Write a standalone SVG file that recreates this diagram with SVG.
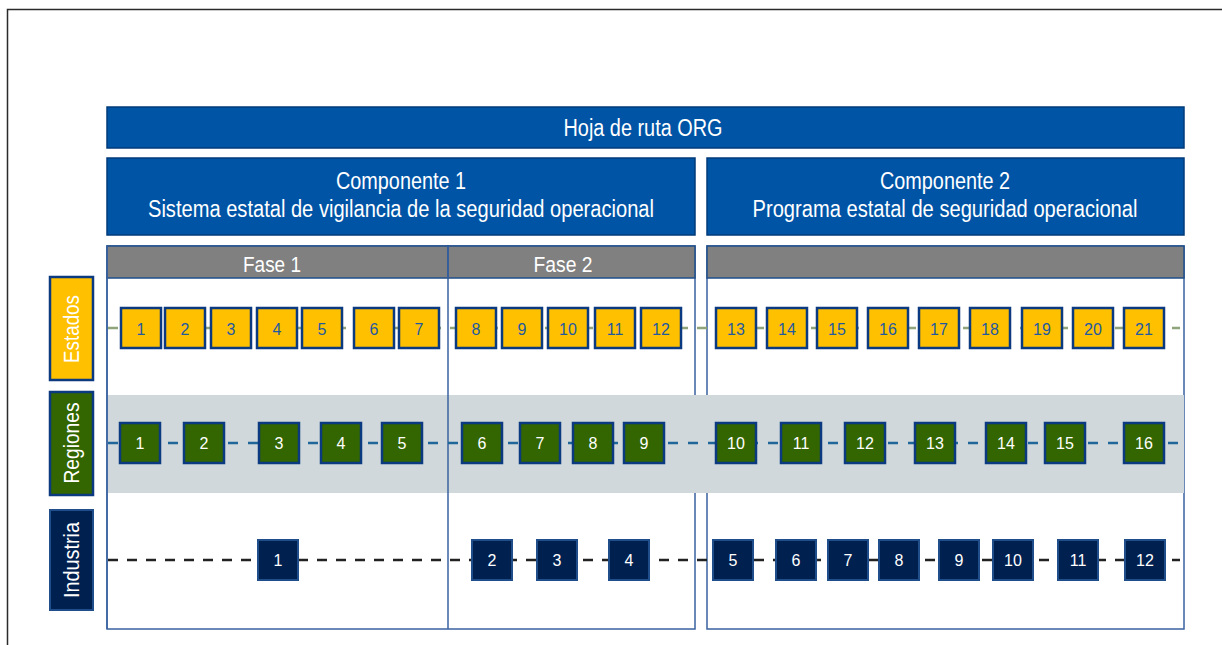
<svg xmlns="http://www.w3.org/2000/svg" width="1222" height="645" viewBox="0 0 1222 645">
<style>
text{font-family:"Liberation Sans",Arial,sans-serif;}
.hd{fill:#0054A6;stroke:#003A7A;stroke-width:1.5}
.ht{fill:#fff;font-size:23px;text-anchor:middle}
.ft{fill:#fff;font-size:22px;text-anchor:middle}
.cont{fill:none;stroke:#3A62A0;stroke-width:1.5}
.ph{fill:#808080;stroke:#1F4E8A;stroke-width:1.5}
.es rect{fill:#FFC000;stroke:#0B3A80;stroke-width:2.5}
.es text{fill:#1F5AA0;font-size:16px;text-anchor:middle}
.rg rect{fill:#336600;stroke:#0B3A80;stroke-width:2.5}
.rg text{fill:#fff;font-size:16px;text-anchor:middle}
.in rect{fill:#002050;stroke:#1F4E8A;stroke-width:2}
.in text{fill:#fff;font-size:16px;text-anchor:middle}
.lbl text{fill:#fff;font-size:22px;text-anchor:middle}
</style>
<rect width="1222" height="645" fill="#fff"/>
<path d="M7.5 645V9.5H1222" fill="none" stroke="#2b2b2b" stroke-width="1.5"/>

<g id="hoja"><rect class="hd" x="107" y="107" width="1077" height="41"/><text class="ht" x="643" y="136" textLength="159" lengthAdjust="spacingAndGlyphs">Hoja de ruta ORG</text></g>
<g id="comp1"><rect class="hd" x="107" y="158" width="588" height="77"/><text class="ht" x="401" y="189" textLength="130" lengthAdjust="spacingAndGlyphs">Componente 1</text><text class="ht" x="401" y="217" textLength="506" lengthAdjust="spacingAndGlyphs">Sistema estatal de vigilancia de la seguridad operacional</text></g>
<g id="comp2"><rect class="hd" x="707" y="158" width="477" height="77"/><text class="ht" x="945" y="189" textLength="130" lengthAdjust="spacingAndGlyphs">Componente 2</text><text class="ht" x="945" y="217" textLength="385" lengthAdjust="spacingAndGlyphs">Programa estatal de seguridad operacional</text></g>

<g id="containers">
<rect class="cont" x="107" y="246" width="588" height="383"/>
<rect class="cont" x="707" y="246" width="477" height="383"/>
</g>
<rect id="band" x="108" y="395" width="1076" height="98" fill="#D0D8DB"/>
<g id="phases">
<rect class="ph" x="107" y="246" width="341" height="32"/>
<rect class="ph" x="448" y="246" width="247" height="32"/>
<rect class="ph" x="707" y="246" width="477" height="32"/>
<line x1="448" y1="246" x2="448" y2="629" stroke="#3A62A0" stroke-width="1.5"/>
<line x1="107" y1="246" x2="107" y2="629" stroke="#3A62A0" stroke-width="1.5"/>
<text class="ft" x="272" y="272" textLength="58" lengthAdjust="spacingAndGlyphs">Fase 1</text>
<text class="ft" x="563" y="272" textLength="59" lengthAdjust="spacingAndGlyphs">Fase 2</text>
</g>

<g id="labels" class="lbl">
<g id="lbl-estados"><rect x="50" y="277" width="43" height="103" fill="#FFC000" stroke="#0B3A80" stroke-width="2.5"/><text transform="translate(79 329) rotate(-90)" textLength="68" lengthAdjust="spacingAndGlyphs">Estados</text></g>
<g id="lbl-regiones"><rect x="50" y="392" width="43" height="103" fill="#336600" stroke="#0B3A80" stroke-width="2.5"/><text transform="translate(79 443) rotate(-90)" textLength="81" lengthAdjust="spacingAndGlyphs">Regiones</text></g>
<g id="lbl-industria"><rect x="50" y="510" width="43" height="100" fill="#002050" stroke="#1F4E8A" stroke-width="2"/><text transform="translate(79 560) rotate(-90)" textLength="76" lengthAdjust="spacingAndGlyphs">Industria</text></g>
</g>

<g id="connectors" fill="none" stroke-width="2.5">
<line x1="108" y1="328" x2="1180" y2="328" stroke="#8FA47A" stroke-dasharray="10 9"/>
<line x1="108" y1="443" x2="1180" y2="443" stroke="#1F6699" stroke-dasharray="10 10"/>
<line x1="108" y1="560" x2="1180" y2="560" stroke="#222" stroke-dasharray="10 9"/>
</g>

<g id="estados" class="es">
<g id="e1"><rect x="121" y="308" width="40" height="40"/><text x="141" y="335">1</text></g>
<g id="e2"><rect x="165" y="308" width="40" height="40"/><text x="185" y="335">2</text></g>
<g id="e3"><rect x="211" y="308" width="40" height="40"/><text x="231" y="335">3</text></g>
<g id="e4"><rect x="257" y="308" width="40" height="40"/><text x="277" y="335">4</text></g>
<g id="e5"><rect x="302" y="308" width="40" height="40"/><text x="322" y="335">5</text></g>
<g id="e6"><rect x="354" y="308" width="40" height="40"/><text x="374" y="335">6</text></g>
<g id="e7"><rect x="399" y="308" width="40" height="40"/><text x="419" y="335">7</text></g>
<g id="e8"><rect x="456" y="308" width="40" height="40"/><text x="476" y="335">8</text></g>
<g id="e9"><rect x="502" y="308" width="40" height="40"/><text x="522" y="335">9</text></g>
<g id="e10"><rect x="548" y="308" width="40" height="40"/><text x="568" y="335">10</text></g>
<g id="e11"><rect x="595" y="308" width="40" height="40"/><text x="615" y="335">11</text></g>
<g id="e12"><rect x="641" y="308" width="40" height="40"/><text x="661" y="335">12</text></g>
<g id="e13"><rect x="716" y="308" width="40" height="40"/><text x="736" y="335">13</text></g>
<g id="e14"><rect x="767" y="308" width="40" height="40"/><text x="787" y="335">14</text></g>
<g id="e15"><rect x="817" y="308" width="40" height="40"/><text x="837" y="335">15</text></g>
<g id="e16"><rect x="868" y="308" width="40" height="40"/><text x="888" y="335">16</text></g>
<g id="e17"><rect x="919" y="308" width="40" height="40"/><text x="939" y="335">17</text></g>
<g id="e18"><rect x="970" y="308" width="40" height="40"/><text x="990" y="335">18</text></g>
<g id="e19"><rect x="1022" y="308" width="40" height="40"/><text x="1042" y="335">19</text></g>
<g id="e20"><rect x="1073" y="308" width="40" height="40"/><text x="1093" y="335">20</text></g>
<g id="e21"><rect x="1124" y="308" width="40" height="40"/><text x="1144" y="335">21</text></g>
</g>

<g id="regiones" class="rg">
<g id="r1"><rect x="120" y="423" width="40" height="40"/><text x="140" y="449">1</text></g>
<g id="r2"><rect x="184" y="423" width="40" height="40"/><text x="204" y="449">2</text></g>
<g id="r3"><rect x="259" y="423" width="40" height="40"/><text x="279" y="449">3</text></g>
<g id="r4"><rect x="321" y="423" width="40" height="40"/><text x="341" y="449">4</text></g>
<g id="r5"><rect x="382" y="423" width="40" height="40"/><text x="402" y="449">5</text></g>
<g id="r6"><rect x="462" y="423" width="40" height="40"/><text x="482" y="449">6</text></g>
<g id="r7"><rect x="520" y="423" width="40" height="40"/><text x="540" y="449">7</text></g>
<g id="r8"><rect x="573" y="423" width="40" height="40"/><text x="593" y="449">8</text></g>
<g id="r9"><rect x="624" y="423" width="40" height="40"/><text x="644" y="449">9</text></g>
<g id="r10"><rect x="716" y="423" width="40" height="40"/><text x="736" y="449">10</text></g>
<g id="r11"><rect x="781" y="423" width="40" height="40"/><text x="801" y="449">11</text></g>
<g id="r12"><rect x="845" y="423" width="40" height="40"/><text x="865" y="449">12</text></g>
<g id="r13"><rect x="915" y="423" width="40" height="40"/><text x="935" y="449">13</text></g>
<g id="r14"><rect x="986" y="423" width="40" height="40"/><text x="1006" y="449">14</text></g>
<g id="r15"><rect x="1045" y="423" width="40" height="40"/><text x="1065" y="449">15</text></g>
<g id="r16"><rect x="1124" y="423" width="40" height="40"/><text x="1144" y="449">16</text></g>
</g>

<g id="industria" class="in">
<g id="i1"><rect x="258" y="540" width="40" height="40"/><text x="278" y="566">1</text></g>
<g id="i2"><rect x="472" y="540" width="40" height="40"/><text x="492" y="566">2</text></g>
<g id="i3"><rect x="537" y="540" width="40" height="40"/><text x="557" y="566">3</text></g>
<g id="i4"><rect x="609" y="540" width="40" height="40"/><text x="629" y="566">4</text></g>
<g id="i5"><rect x="713" y="540" width="40" height="40"/><text x="733" y="566">5</text></g>
<g id="i6"><rect x="776" y="540" width="40" height="40"/><text x="796" y="566">6</text></g>
<g id="i7"><rect x="828" y="540" width="40" height="40"/><text x="848" y="566">7</text></g>
<g id="i8"><rect x="879" y="540" width="40" height="40"/><text x="899" y="566">8</text></g>
<g id="i9"><rect x="939" y="540" width="40" height="40"/><text x="959" y="566">9</text></g>
<g id="i10"><rect x="993" y="540" width="40" height="40"/><text x="1013" y="566">10</text></g>
<g id="i11"><rect x="1058" y="540" width="40" height="40"/><text x="1078" y="566">11</text></g>
<g id="i12"><rect x="1125" y="540" width="40" height="40"/><text x="1145" y="566">12</text></g>
</g>
</svg>
